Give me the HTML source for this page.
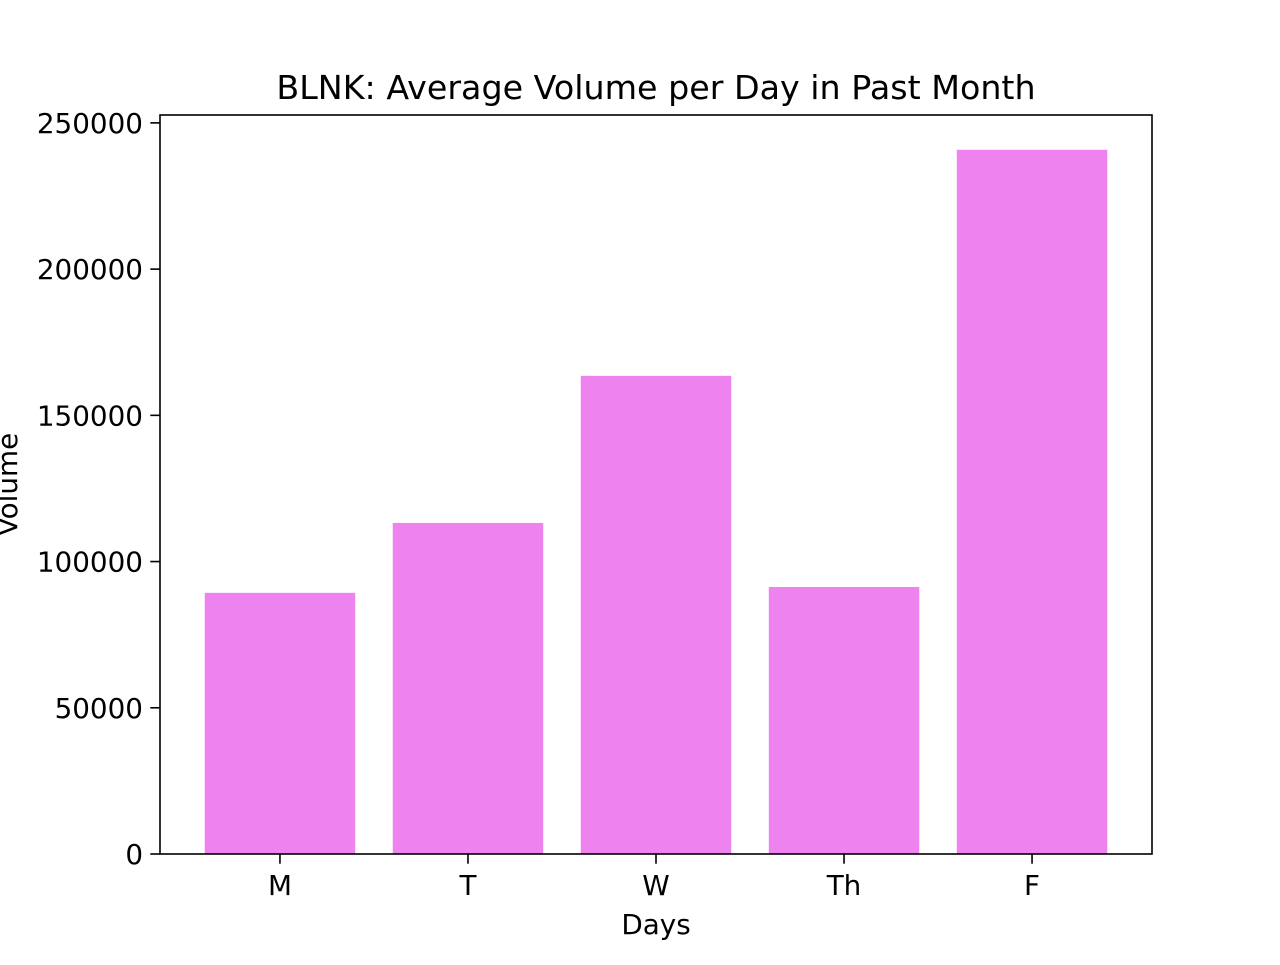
<!DOCTYPE html>
<html><head><meta charset="utf-8"><style>
html,body{margin:0;padding:0;background:#fff;}
svg text{font-family:"DejaVu Sans","Liberation Sans",sans-serif;fill:#000;}
</style></head><body>
<svg id="chart" width="1280" height="960" xmlns="http://www.w3.org/2000/svg">
<rect width="1280" height="960" fill="#fff"/>
<g id="bars"></g><g id="axes"></g>
</svg>
<script>
const categories = ["M","T","W","Th","F"];
const volumes = [89300, 113200, 163500, 91300, 240800];
const yTicks = [0, 50000, 100000, 150000, 200000, 250000];

const L=160,R=1152,T=115,B=854;
const xmin=-0.638,xmax=4.638,ymin=0,ymax=252700;
const sx=v=>L+(v-xmin)/(xmax-xmin)*(R-L);
const sy=v=>B-(v-ymin)/(ymax-ymin)*(B-T);
const NS="http://www.w3.org/2000/svg";
function mk(tag,attrs,parent,text){const e=document.createElementNS(NS,tag);for(const k in attrs)e.setAttribute(k,attrs[k]);if(text!==undefined)e.textContent=text;parent.appendChild(e);return e;}
const bars=document.getElementById('bars'),axes=document.getElementById('axes');
categories.forEach((c,i)=>{
  const x0=sx(i-0.4),x1=sx(i+0.4),y=sy(volumes[i]);
  const r=mk('rect',{x:x0,y:y,width:x1-x0,height:sy(0)-y,fill:'#ee82ee'},bars);
  
  
  mk('line',{x1:sx(i),x2:sx(i),y1:B,y2:B+9.7,stroke:'#000','stroke-width':1.6},axes);
  const t=mk('text',{x:sx(i),y:B+41,'font-size':27.8,'text-anchor':'middle'},axes,c);
  
  
});
yTicks.forEach(v=>{
  mk('line',{x1:L-9.7,x2:L,y1:sy(v),y2:sy(v),stroke:'#000','stroke-width':1.6},axes);
  const t=mk('text',{x:L-17,y:sy(v)+10,'font-size':27.8,'text-anchor':'end'},axes,String(v));
  
  
});
const f=mk('rect',{x:L,y:T,width:R-L,height:B-T,fill:'none',stroke:'#000','stroke-width':1.6},axes);


const tt=mk('text',{x:(L+R)/2,y:99,'font-size':33.3,'text-anchor':'middle'},axes,'BLNK: Average Volume per Day in Past Month');


const xl=mk('text',{x:(L+R)/2,y:934,'font-size':27.8,'text-anchor':'middle'},axes,'Days');


const yl=mk('text',{x:0,y:0,'font-size':27.8,'text-anchor':'middle',transform:'translate(17,'+((T+B)/2)+') rotate(-90)'},axes,'Volume');


</script>
</body></html>
